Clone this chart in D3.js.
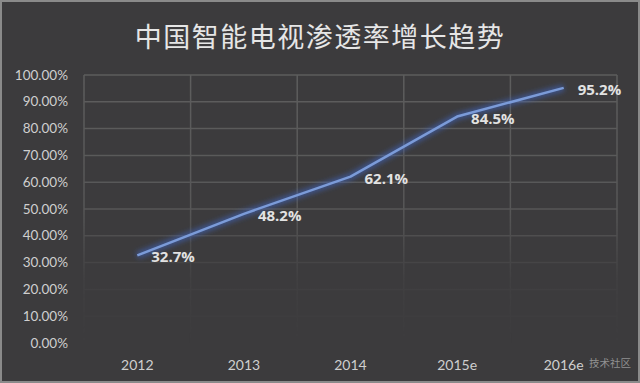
<!DOCTYPE html>
<html>
<head>
<meta charset="utf-8">
<script src="https://cdn.jsdelivr.net/npm/d3@7"></script>
<style>
  body { margin: 0; background: #3c3b3d; }
  svg { display: block; }
</style>
</head>
<body>
<svg id="chart" width="640" height="383"></svg>
<script>
var years = ['2012', '2013', '2014', '2015e', '2016e'];
var rates = [0.327, 0.482, 0.621, 0.845, 0.952];
var rateLabels = ['32.7%', '48.2%', '62.1%', '84.5%', '95.2%'];
var yTicks = [0, 0.1, 0.2, 0.3, 0.4, 0.5, 0.6, 0.7, 0.8, 0.9, 1.0];

var svg = d3.select('#chart'),
    width = +svg.attr('width'),
    height = +svg.attr('height');

// background + light outer frame
svg.append('rect')
    .attr('x', 1).attr('y', 1)
    .attr('width', width - 2).attr('height', height - 2)
    .attr('fill', '#3c3b3d')
    .attr('stroke', '#8a8a8a')
    .attr('stroke-width', 2);

var x = d3.scaleBand().domain(years).range([84, 617]).padding(0);
var y = d3.scaleLinear().domain([0, 1]).range([343, 75]);

var defs = svg.append('defs');

// grid fades out toward the bottom like in the picture
var grad = defs.append('linearGradient')
    .attr('id', 'fade')
    .attr('x1', 0).attr('y1', 0).attr('x2', 0).attr('y2', 1);
grad.append('stop').attr('offset', '0%').attr('stop-color', '#fff').attr('stop-opacity', 1);
grad.append('stop').attr('offset', '50%').attr('stop-color', '#fff').attr('stop-opacity', 0.8);
grad.append('stop').attr('offset', '75%').attr('stop-color', '#fff').attr('stop-opacity', 0.15);
grad.append('stop').attr('offset', '100%').attr('stop-color', '#fff').attr('stop-opacity', 0);
defs.append('mask')
    .attr('id', 'gridMask')
    .attr('maskUnits', 'userSpaceOnUse')
    .attr('x', 0).attr('y', 0).attr('width', width).attr('height', height)
    .append('rect')
    .attr('x', 0).attr('y', 70).attr('width', width).attr('height', 280)
    .attr('fill', 'url(#fade)');

var glow = defs.append('filter').attr('id', 'glow')
    .attr('x', '-10%').attr('y', '-10%').attr('width', '120%').attr('height', '120%');
glow.append('feGaussianBlur').attr('stdDeviation', 2.5);

// title
svg.append('text')
    .attr('x', 320)
    .attr('y', 47)
    .attr('text-anchor', 'middle')
    .attr('fill', '#e6e6e6')
    .style('font-family', '"Noto Sans CJK SC", sans-serif')
    .style('font-size', '27px')
    .style('letter-spacing', '1.5px')
    .text('中国智能电视渗透率增长趋势');

// grid
var grid = svg.append('g').attr('mask', 'url(#gridMask)');
grid.selectAll('.hline')
    .data(yTicks.filter(function(d) { return d > 0; }))
    .enter()
    .append('line')
    .attr('x1', x.range()[0]).attr('x2', x.range()[1])
    .attr('y1', function(d) { return y(d); })
    .attr('y2', function(d) { return y(d); })
    .attr('stroke', '#5e5e5e')
    .attr('stroke-width', 1.5);
var bounds = years.map(function(d) { return x(d); }).concat([x.range()[1]]);
grid.selectAll('.vline')
    .data(bounds)
    .enter()
    .append('line')
    .attr('x1', function(d) { return d; })
    .attr('x2', function(d) { return d; })
    .attr('y1', y(1)).attr('y2', y(0))
    .attr('stroke', '#5e5e5e')
    .attr('stroke-width', 1.5);

// y axis labels
svg.append('g')
    .selectAll('text')
    .data(yTicks)
    .enter()
    .append('text')
    .attr('x', 68)
    .attr('y', function(d) { return y(d) + 4.5; })
    .attr('text-anchor', 'end')
    .attr('fill', '#cfcfcf')
    .style('font-family', 'Lato, "Open Sans", sans-serif')
    .style('font-size', '13.5px')
    .text(function(d) { return (d * 100).toFixed(2) + '%'; });

// x axis labels
svg.append('g')
    .selectAll('text')
    .data(years)
    .enter()
    .append('text')
    .attr('x', function(d) { return x(d) + x.bandwidth() / 2; })
    .attr('y', 370)
    .attr('text-anchor', 'middle')
    .attr('fill', '#cfcfcf')
    .style('font-family', 'Lato, "Open Sans", sans-serif')
    .style('font-size', '14px')
    .text(function(d) { return d; });

// line
var line = d3.line()
    .x(function(d, i) { return x(years[i]) + x.bandwidth() / 2; })
    .y(function(d) { return y(d); });

svg.append('path')
    .datum(rates)
    .attr('d', line)
    .attr('fill', 'none')
    .attr('stroke', '#3f67c8')
    .attr('stroke-width', 7)
    .attr('stroke-opacity', 0.55)
    .attr('filter', 'url(#glow)');
svg.append('path')
    .datum(rates)
    .attr('d', line)
    .attr('fill', 'none')
    .attr('stroke', '#7b9bd8')
    .attr('stroke-width', 2.5)
    .attr('stroke-linejoin', 'round');

// value labels
svg.append('g')
    .selectAll('text')
    .data(rates)
    .enter()
    .append('text')
    .attr('x', function(d, i) { return x(years[i]) + x.bandwidth() / 2 + 14; })
    .attr('y', function(d) { return y(d) + 7; })
    .attr('fill', '#e2e2e2')
    .style('font-family', '"Open Sans", sans-serif')
    .style('font-weight', 'bold')
    .style('font-size', '15px')
    .text(function(d, i) { return rateLabels[i]; });

// watermark
svg.append('text')
    .attr('x', 631)
    .attr('y', 367)
    .attr('text-anchor', 'end')
    .attr('fill', '#a8a8a8')
    .attr('fill-opacity', 0.8)
    .style('font-family', '"Noto Sans CJK SC", sans-serif')
    .style('font-size', '10.5px')
    .text('技术社区');
</script>
</body>
</html>
